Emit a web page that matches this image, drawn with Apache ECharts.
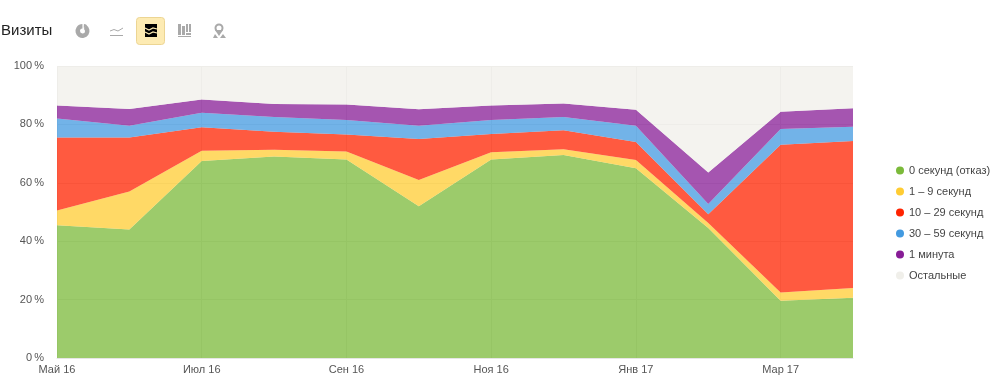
<!DOCTYPE html>
<html>
<head>
<meta charset="utf-8">
<style>
  html, body { margin: 0; padding: 0; background: #fff; }
  #chart-container { width: 1000px; height: 387px; }
</style>
<script src="https://cdn.jsdelivr.net/npm/echarts@6/dist/echarts.min.js"></script>
</head>
<body>
<div id="chart-container"></div>
<script>
const months = ['Май 16', 'Июн 16', 'Июл 16', 'Авг 16', 'Сен 16', 'Окт 16', 'Ноя 16', 'Дек 16', 'Янв 17', 'Фев 17', 'Мар 17', 'Апр 17'];

// Share of visits per band, in percent
const sec0 = [45.5, 44, 67.5, 69, 68, 52, 68, 69.5, 65, 44.5, 19.6, 20.6];
const sec1to9 = [5, 13, 3.5, 2.3, 2.7, 9, 2.5, 2, 2.8, 1.7, 2.8, 3.4];
const sec10to29 = [25, 18.5, 8, 6.2, 5.8, 14, 6.2, 6.5, 6.2, 3, 50.6, 50.3];
const sec30to59 = [6.5, 4, 5, 5, 5, 4.5, 4.8, 4.5, 5.5, 3.5, 5.4, 4.9];
const min1 = [4.5, 5.8, 4.5, 4.5, 5.3, 5.7, 5, 4.7, 5.5, 10.8, 5.9, 6.3];
const others = [13.5, 14.7, 11.5, 13, 13.2, 14.8, 13.5, 12.8, 15, 36.5, 15.7, 14.5];

const seriesNames = ['0 секунд (отказ)', '1 – 9 секунд', '10 – 29 секунд', '30 – 59 секунд', '1 минута', 'Остальные'];
const seriesValues = [sec0, sec1to9, sec10to29, sec30to59, min1, others];
const seriesColors = ['#7bba3a', '#ffcc33', '#ff2300', '#439ae0', '#871c96', '#f0efea'];

const chartDom = document.getElementById('chart-container');
const myChart = echarts.init(chartDom, null, { renderer: 'canvas' });

const iconGrey = '#a9a9a9';
const fontFamily = '"Liberation Sans", Arial, sans-serif';

// every second month gets a label and a grid line
function everySecond(index) {
  return index % 2 === 0;
}

// Toolbar next to the title, decoration only
function toolbar() {
  const items = [];
  // pie icon
  items.push({ type: 'sector', shape: { cx: 82.5, cy: 31, r: 7, r0: 2.5, startAngle: -1.0, endAngle: 4.7 }, style: { fill: iconGrey } });
  items.push({ type: 'sector', shape: { cx: 83.5, cy: 30, r: 6, r0: 2.5, startAngle: -1.5, endAngle: -1.0 }, style: { fill: iconGrey } });
  // line icon
  items.push({ type: 'polyline', shape: { points: [[110, 31], [114, 29.5], [118, 31], [123, 28]] }, style: { stroke: iconGrey, fill: null, lineWidth: 1 } });
  items.push({ type: 'line', shape: { x1: 110, y1: 35.5, x2: 123, y2: 35.5 }, style: { stroke: iconGrey, lineWidth: 1 } });
  // active button, stacked area
  items.push({ type: 'rect', shape: { x: 136.5, y: 17.5, width: 28, height: 27, r: 3 }, style: { fill: '#fdebb3', stroke: '#ecd593', lineWidth: 1 } });
  items.push({ type: 'rect', shape: { x: 145, y: 24, width: 12, height: 13 }, style: { fill: '#000' } });
  items.push({ type: 'polyline', shape: { points: [[145, 28], [149, 30], [153, 28], [157, 29]] }, style: { stroke: '#fdebb3', fill: null, lineWidth: 1.2 } });
  items.push({ type: 'polyline', shape: { points: [[145, 32], [149, 34], [153, 32], [157, 33]] }, style: { stroke: '#fdebb3', fill: null, lineWidth: 1.2 } });
  // bars icon
  [[178, 24, 3, 11], [182, 26, 3, 9], [186, 24, 2, 8], [189, 24, 2, 8]].forEach(function (b) {
    items.push({ type: 'rect', shape: { x: b[0], y: b[1], width: b[2], height: b[3] }, style: { fill: iconGrey } });
  });
  items.push({ type: 'rect', shape: { x: 186, y: 33, width: 5, height: 2 }, style: { fill: iconGrey } });
  items.push({ type: 'line', shape: { x1: 178, y1: 36.5, x2: 191, y2: 36.5 }, style: { stroke: iconGrey, lineWidth: 1 } });
  // map pin icon
  items.push({ type: 'circle', shape: { cx: 219, cy: 28, r: 3.5 }, style: { fill: null, stroke: iconGrey, lineWidth: 2 } });
  items.push({ type: 'polygon', shape: { points: [[215, 30], [223, 30], [219, 36]] }, style: { fill: iconGrey } });
  items.push({ type: 'polygon', shape: { points: [[213, 38], [215, 34], [218, 38]] }, style: { fill: iconGrey } });
  items.push({ type: 'polygon', shape: { points: [[220, 38], [223, 34], [226, 38]] }, style: { fill: iconGrey } });
  return items;
}

const chartOption = {
  animation: false,
  title: {
    text: 'Визиты',
    left: -4,
    top: 18,
    textStyle: { fontFamily: fontFamily, fontSize: 15, fontWeight: 'normal', color: '#222' }
  },
  legend: {
    orient: 'vertical',
    left: 891,
    top: 160,
    icon: 'circle',
    itemWidth: 8,
    itemHeight: 8,
    itemGap: 10,
    selectedMode: false,
    data: seriesNames,
    textStyle: { fontFamily: fontFamily, fontSize: 11, color: '#444' }
  },
  grid: { left: 57, right: 147, top: 66, bottom: 29, show: false },
  xAxis: {
    type: 'category',
    boundaryGap: false,
    data: months,
    axisLine: { show: true, lineStyle: { color: '#e6e6e6' } },
    axisTick: { show: false },
    axisLabel: { interval: everySecond, color: '#555', fontFamily: fontFamily, fontSize: 11, margin: 6 },
    splitLine: { show: true, interval: everySecond, lineStyle: { color: '#e8e8e8', width: 1 } }
  },
  yAxis: {
    type: 'value',
    min: 0,
    max: 100,
    interval: 20,
    axisLine: { show: false },
    axisTick: { show: false },
    axisLabel: {
      color: '#555',
      fontFamily: fontFamily,
      fontSize: 11,
      margin: 13,
      formatter: function (v) { return v + '\u2009%'; }
    },
    splitLine: { show: true, lineStyle: { color: '#e8e8e8', width: 1 } }
  },
  graphic: toolbar(),
  series: seriesNames.map(function (name, i) {
    return {
      name: name,
      type: 'line',
      stack: 'visits',
      data: seriesValues[i],
      showSymbol: false,
      smooth: false,
      lineStyle: { width: 0 },
      itemStyle: { color: seriesColors[i] },
      areaStyle: { color: seriesColors[i], opacity: 0.75 }
    };
  })
};

myChart.setOption(chartOption);
</script>
</body>
</html>
